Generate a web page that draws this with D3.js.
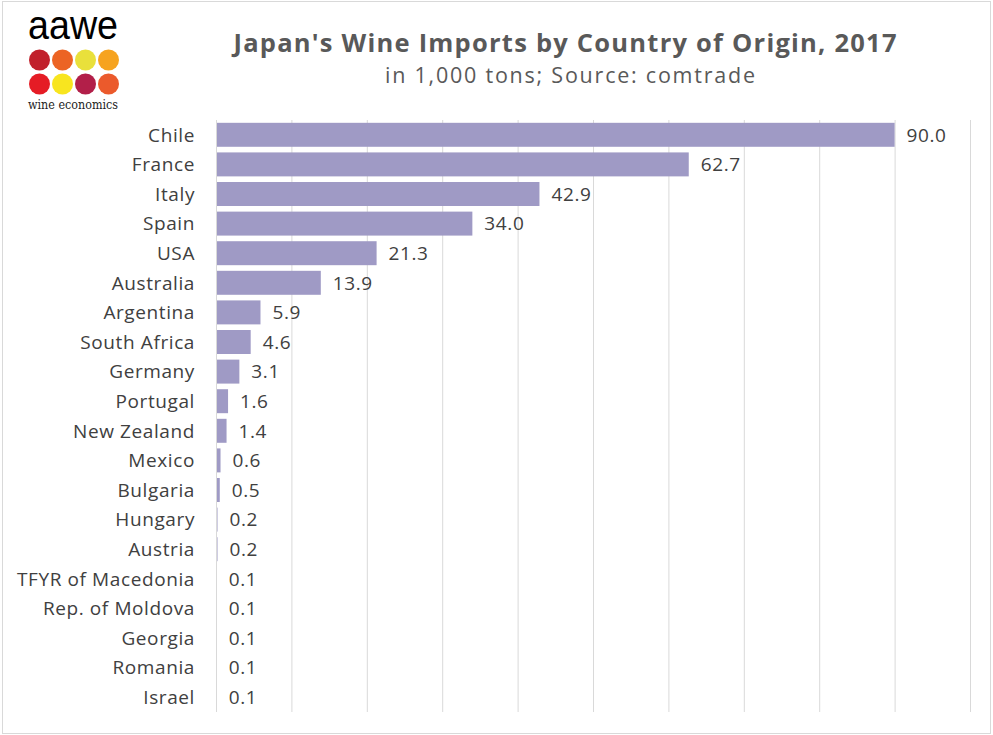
<!DOCTYPE html>
<html>
<head>
<meta charset="utf-8">
<script src="https://cdn.jsdelivr.net/npm/d3@7"></script>
<style>
  body { margin: 0; background: #fff; }
  svg { display: block; }
  text { font-family: "Open Sans", Lato, sans-serif; }
</style>
</head>
<body>
<svg id="chart" width="993" height="735"></svg>
<script>
// data
const countries = ["Chile", "France", "Italy", "Spain", "USA", "Australia", "Argentina",
  "South Africa", "Germany", "Portugal", "New Zealand", "Mexico", "Bulgaria", "Hungary",
  "Austria", "TFYR of Macedonia", "Rep. of Moldova", "Georgia", "Romania", "Israel"]
const imports = [90.0, 62.7, 42.9, 34.0, 21.3, 13.9, 5.9, 4.6, 3.1, 1.6, 1.4, 0.6, 0.5, 0.2,
  0.2, 0.1, 0.1, 0.1, 0.1, 0.1]
const xTicks = [0, 10, 20, 30, 40, 50, 60, 70, 80, 90, 100]

const title = "Japan's Wine Imports by Country of Origin, 2017"
const subtitle = "in 1,000 tons; Source: comtrade"

// logo dots
const logoColors = ["#c1202b", "#ec6424", "#e9e03b", "#f6a31f",
  "#e51c25", "#f8e51f", "#b21f49", "#eb5a2c"]

const svg = d3.select("#chart")

svg.append("rect")
  .attr("x", 2.5).attr("y", 1.5)
  .attr("width", 988).attr("height", 732)
  .attr("fill", "#fff")
  .attr("stroke", "#d9d9d9")

const x = d3.scaleLinear().domain([0, 100]).range([216, 970])
const y = d3.scaleBand().domain(countries).range([120, 712])
  .paddingInner(0.19).paddingOuter(0.095)

// gridlines
svg.append("g")
  .selectAll("line")
  .data(xTicks)
  .enter()
  .append("line")
  .attr("x1", d => x(d) + 0.5).attr("x2", d => x(d) + 0.5)
  .attr("y1", 120).attr("y2", 712)
  .attr("stroke", "#d9d9d9")
  .attr("stroke-width", 1)

// bars
svg.append("g")
  .selectAll("rect")
  .data(countries)
  .enter()
  .append("rect")
  .attr("x", x(0) + 1)
  .attr("y", d => y(d))
  .attr("width", (d, i) => Math.max(0, x(imports[i]) - x(0) - 1))
  .attr("height", y.bandwidth())
  .attr("fill", "#9f9ac5")

// category labels
svg.append("g")
  .selectAll("text")
  .data(countries)
  .enter()
  .append("text")
  .attr("x", 195)
  .attr("y", d => y(d) + y.bandwidth() / 2)
  .attr("dy", "0.36em")
  .attr("text-anchor", "end")
  .attr("font-size", 19)
  .attr("letter-spacing", 0.6)
  .attr("fill", "#404040")
  .text(d => d)

// value labels
svg.append("g")
  .selectAll("text")
  .data(countries)
  .enter()
  .append("text")
  .attr("x", (d, i) => x(imports[i]) + 12)
  .attr("y", d => y(d) + y.bandwidth() / 2)
  .attr("dy", "0.36em")
  .attr("font-size", 19)
  .attr("letter-spacing", 0.6)
  .attr("fill", "#404040")
  .text((d, i) => d3.format(".1f")(imports[i]))

// titles
svg.append("text")
  .attr("x", 565).attr("y", 52)
  .attr("text-anchor", "middle")
  .attr("font-size", 25.5)
  .attr("font-weight", "bold")
  .attr("textLength", 663).attr("lengthAdjust", "spacing")
  .attr("fill", "#595959")
  .text(title)

svg.append("text")
  .attr("x", 570).attr("y", 83)
  .attr("text-anchor", "middle")
  .attr("font-size", 21.5)
  .attr("textLength", 370).attr("lengthAdjust", "spacing")
  .attr("fill", "#595959")
  .text(subtitle)

// logo
const logo = svg.append("g")
logo.append("text")
  .attr("x", 28).attr("y", 39)
  .attr("font-size", 40)
  .attr("textLength", 90).attr("lengthAdjust", "spacingAndGlyphs")
  .attr("fill", "#000")
  .style("font-family", "'Liberation Sans', sans-serif")
  .text("aawe")
logo.selectAll("circle")
  .data(logoColors)
  .enter()
  .append("circle")
  .attr("cx", (d, i) => 39.5 + (i % 4) * 23)
  .attr("cy", (d, i) => 60 + Math.floor(i / 4) * 24)
  .attr("r", 10.5)
  .attr("fill", d => d)
logo.append("text")
  .attr("x", 28).attr("y", 109)
  .attr("font-size", 13)
  .attr("textLength", 90).attr("lengthAdjust", "spacingAndGlyphs")
  .attr("fill", "#222")
  .style("font-family", "'DejaVu Serif', serif")
  .text("wine economics")
</script>
</body>
</html>
